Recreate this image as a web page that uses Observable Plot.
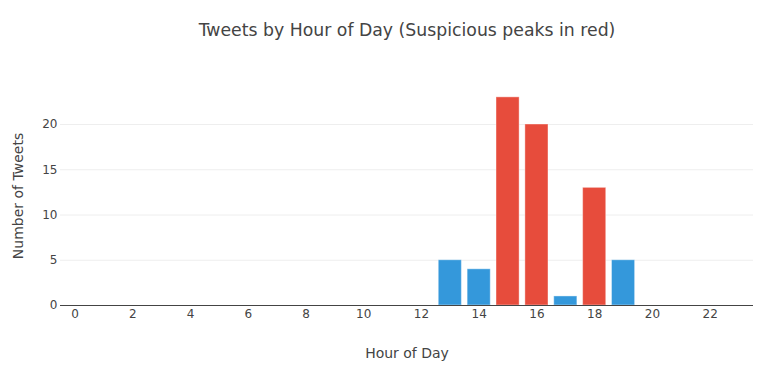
<!DOCTYPE html>
<html>
<head>
<meta charset="utf-8">
<script src="https://cdn.jsdelivr.net/npm/d3@7"></script>
<script src="https://cdn.jsdelivr.net/npm/@observablehq/plot@0.6"></script>
<style>
  html, body { margin: 0; padding: 0; background: #fff; }
  #chart svg { display: block; }
</style>
</head>
<body>
<div id="chart"></div>
<script>
const hours = [0,1,2,3,4,5,6,7,8,9,10,11,12,13,14,15,16,17,18,19,20,21,22,23];
const tweetCounts = [0,0,0,0,0,0,0,0,0,0,0,0,0,5,4,23,20,1,13,5,0,0,0,0];
const suspicious = [15,16,18];
const xTicks = [0,2,4,6,8,10,12,14,16,18,20,22];
const yTicks = [0,5,10,15,20];
const titleText = "Tweets by Hour of Day (Suspicious peaks in red)";
const xTitle = "Hour of Day";
const yTitle = "Number of Tweets";

const data = hours.map((h, i) => ({hour: h, count: tweetCounts[i], sus: suspicious.includes(h)}));
const bars = data.filter(d => d.count > 0);

const chart = Plot.plot({
  width: 768,
  height: 372,
  marginLeft: 60,
  marginRight: 15,
  marginTop: 86,
  marginBottom: 67,
  style: {fontFamily: "DejaVu Sans, Verdana, sans-serif", fontSize: "12px", color: "#444", background: "#fff"},
  x: {domain: [-0.5, 23.5]},
  y: {domain: [0, 24.2]},
  marks: [
    Plot.gridY(yTicks.filter(t => t > 0), {stroke: "#eee", strokeOpacity: 1}),
    Plot.rectY(bars, {
      x1: d => d.hour - 0.4,
      x2: d => d.hour + 0.4,
      y: "count",
      fill: d => d.sus ? "#e74c3c" : "#3498db",
      stroke: "white",
      strokeOpacity: 0.4,
      strokeWidth: 1
    }),
    Plot.ruleY([0], {stroke: "#444", strokeWidth: 1}),
    Plot.axisX(xTicks, {tickSize: 0, tickPadding: 4, fontSize: 12, label: xTitle, labelAnchor: "center", labelOffset: 52, labelArrow: "none"}),
    Plot.axisY(yTicks, {tickSize: 0, tickPadding: 3, fontSize: 12, label: yTitle, labelAnchor: "center", labelOffset: 47, labelArrow: "none"}),
    Plot.text([titleText], {frameAnchor: "top", dy: -56, lineAnchor: "middle", fontSize: 17.3, fill: "#444"})
  ]
});
// axis label font size
chart.querySelectorAll("g[aria-label='x-axis label'] text, g[aria-label='y-axis label'] text").forEach(t => t.setAttribute("font-size", 14));
document.getElementById("chart").appendChild(chart);
</script>
</body>
</html>
